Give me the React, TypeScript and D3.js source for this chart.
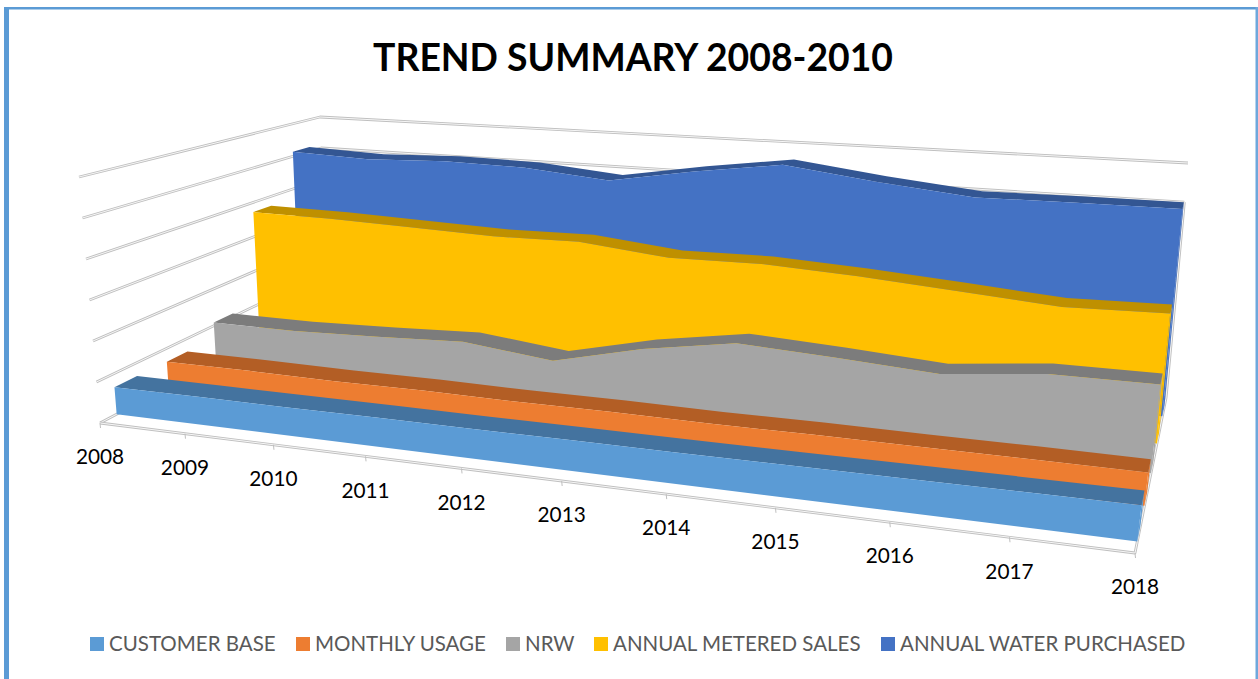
import React from 'react'
import * as d3 from 'd3'

const years = ['2008','2009','2010','2011','2012','2013','2014','2015','2016','2017','2018'];
const seriesNames = ['CUSTOMER BASE','MONTHLY USAGE','NRW','ANNUAL METERED SALES','ANNUAL WATER PURCHASED'];
const customerBase = [6.7,6.8,6.8,6.9,6.9,7.0,7.0,7.1,7.2,7.3,7.4];
const monthlyUsage = [6.6,6.7,6.6,6.8,6.7,6.9,6.8,7.0,7.0,7.1,7.1];
const nrw = [10.9,11,11.9,13,10.6,16,19.8,18.7,17.3,19.8,19.9];
const meteredSales = [37.2,37.1,36.5,35.9,36.3,34,34.4,33.3,31.7,30,30.6];
const waterPurchased = [51.4,50.6,51.5,51.1,49,53,56.3,53.2,50.8,51.1,51.2];
const allValues = [customerBase,monthlyUsage,nrw,meteredSales,waterPurchased];
const valueTicks = [0,10,20,30,40,50,60];

const faceColors = ['#5b9bd5','#ed7d31','#a5a5a5','#ffc000','#4472c4'];
const topColors = ['#44739f','#b35e25','#7c7c7c','#bf9000','#335693'];

// box corners on screen, order: front-left, front-right, back-right, back-left
type P = [number, number];
const floorQuad: P[] = [[100,423],[1135,553],[1166,398],[327,303]];
const ceilQuad: P[] = [[79,177],[1170,255],[1188,163],[320,117]];

function quadMap(q: P[]) {
  const [[x0,y0],[x1,y1],[x2,y2],[x3,y3]] = q;
  const dx1 = x1-x2, dx2 = x3-x2, sx = x0-x1+x2-x3;
  const dy1 = y1-y2, dy2 = y3-y2, sy = y0-y1+y2-y3;
  const den = dx1*dy2-dx2*dy1;
  const g = (sx*dy2-dx2*sy)/den, h = (dx1*sy-sx*dy1)/den;
  const a = x1-x0+g*x1, b = x3-x0+h*x3, d = y1-y0+g*y1, e = y3-y0+h*y3;
  return (u: number, v: number): P => {
    const w = g*u+h*v+1;
    return [(a*u+b*v+x0)/w, (d*u+e*v+y0)/w];
  };
}
const floorAt = quadMap(floorQuad);
const ceilAt = quadMap(ceilQuad);

const xScale = d3.scalePoint<string>().domain(years).range([0,1]);
const zScale = d3.scaleBand<string>().domain(seriesNames).range([0,1]).paddingInner(0.58).paddingOuter(0.3025).align(0.5);
const yScale = d3.scaleLinear().domain([0,60]).range([0,1]);

// the years get wider toward the right at the front of the box, less so at the back
const foreshorten = d3.scaleLinear().domain([0,1]).range([0.876,1]);
const yearPos = (year: string, depth: number) => {
  const t = xScale(year) as number, c = foreshorten(depth);
  return c*t/(1+(c-1)*t);
};

// 3D -> screen
const project = (year: string, depth: number, value: number): P => {
  const t = yearPos(year,depth), k = yScale(value);
  const a = floorAt(t,depth), b = ceilAt(t,depth);
  return [a[0]+(b[0]-a[0])*k, a[1]+(b[1]-a[1])*k];
};
const edge = d3.line<P>().curve(d3.curveLinearClosed);
const segment = d3.line<P>();

const labelFont = 'Lato, "Open Sans", sans-serif';

function GridLine({ d }: { d: string }) {
  return <g fill="none" strokeLinejoin="round">
    <path d={d} stroke="#bfbfbf" strokeWidth={2.8}/>
    <path d={d} stroke="#f6f6f6" strokeWidth={1}/>
  </g>;
}

export default function App() {
  const first = years[0], last = years[years.length-1];
  const bw = zScale.bandwidth();
  const legendX = [90,296,506,594,881];
  return (
    <svg width={1258} height={679} style={{position:'absolute',left:0,top:0,background:'#fff'}}>
      {/* page border */}
      <rect x={4} y={7} width={5} height={672} fill="#5b9bd5"/>
      <rect x={4} y={7} width={1254} height={2.5} fill="#5b9bd5"/>
      <rect x={1255.5} y={7} width={2.5} height={672} fill="#6fa8dc"/>

      <text x={633} y={70.5} textAnchor="middle" fontFamily={labelFont} fontWeight={700} fontSize={37.3} fill="#000">TREND SUMMARY 2008-2010</text>

      {/* walls */}
      {valueTicks.map(v => <GridLine key={'l'+v} d={segment([project(first,0,v),project(first,1,v),project(last,1,v)]) as string}/>)}
      <GridLine d={segment([project(first,0,0),project(last,0,0),project(last,1,0)]) as string}/>
      <GridLine d={segment([project(last,1,0),project(last,1,50)]) as string}/>
      {years.map(y => {
        const [x0,y0] = project(y,0,0);
        return <g key={y}>
          <line x1={x0} y1={y0} x2={x0+0.5} y2={y0+5} stroke="#bfbfbf" strokeWidth={1}/>
          <text x={x0} y={y0+34} dy="0.35em" textAnchor="middle" fontFamily={labelFont} fontSize={20.8} fill="#000">{y}</text>
        </g>;
      })}

      {/* ribbons, back to front */}
      {seriesNames.map((name,i) => ({name,i})).reverse().map(({name,i}) => {
        const vals = allValues[i];
        const z0 = zScale(name) as number, z1 = z0+bw;
        const front = years.map((y,j) => project(y,z0,vals[j]));
        const back = years.map((y,j) => project(y,z1,vals[j]));
        const face = [...front, project(last,z0,0), project(first,z0,0)];
        const cap = [project(last,z0,vals[10]),project(last,z1,vals[10]),project(last,z1,0),project(last,z0,0)];
        const top = [...front, ...back.slice().reverse()];
        return <g key={name}>
          <path d={edge(cap) as string} fill={faceColors[i]}/>
          <path d={edge(top) as string} fill={topColors[i]}/>
          <path d={edge(face) as string} fill={faceColors[i]}/>
        </g>;
      })}

      {/* legend */}
      {seriesNames.map((name,i) => <g key={name}>
        <rect x={legendX[i]} y={637} width={14} height={14} fill={faceColors[i]}/>
        <text x={legendX[i]+19} y={644} dy="0.35em" fontFamily={labelFont} fontSize={20.5} fill="#595959">{name}</text>
      </g>)}
    </svg>
  );
}
